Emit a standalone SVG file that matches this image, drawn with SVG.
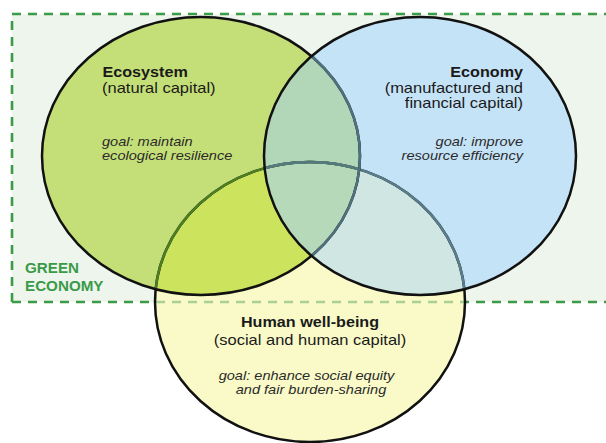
<svg xmlns="http://www.w3.org/2000/svg" width="606" height="443" viewBox="0 0 606 443">
<style>
  .t { font-family: "Liberation Sans", Arial, sans-serif; fill: #1a1a1a; }
  .h { font-size: 14.3px; font-weight: bold; }
  .r { font-size: 14.6px; }
  .g { font-size: 12.9px; font-style: italic; fill: #2a2a2a; }
  .ge { font-family: "Liberation Sans", Arial, sans-serif; font-size: 15.2px; font-weight: bold; fill: #3a9a48; }
  .dash { fill: none; stroke-width: 2.6; stroke-dasharray: 9 7; }
  .ol { fill: none; stroke-width: 2.5; }
</style>
<defs>
  <clipPath id="cE"><ellipse cx="201" cy="156" rx="159" ry="139"/></clipPath>
  <clipPath id="cC"><ellipse cx="420" cy="156" rx="156" ry="139"/></clipPath>
  <clipPath id="cH"><ellipse cx="310" cy="302" rx="155" ry="140"/></clipPath>
</defs>
<rect x="0" y="0" width="606" height="443" fill="#ffffff"/>

<g id="green-economy">
  <rect x="12" y="14" width="620" height="288" fill="#eef5ec"/>
  <path class="dash" stroke="#3c9b46" d="M12,302 V14 H620"/>
  <path class="dash" stroke="#3c9b46" d="M12,302 H620"/>
  <text class="ge" x="25" y="273">GREEN</text>
  <text class="ge" x="25" y="290.5">ECONOMY</text>
</g>

<g id="overlaps">
  <ellipse cx="310" cy="302" rx="155" ry="140" fill="#f9fac8"/>
  <ellipse cx="201" cy="156" rx="159" ry="139" fill="#c5df78"/>
  <ellipse cx="420" cy="156" rx="156" ry="139" fill="#c5e3f7"/>
  <g clip-path="url(#cE)"><ellipse cx="420" cy="156" rx="156" ry="139" fill="#b2d6b8"/></g>
  <g clip-path="url(#cE)"><ellipse cx="310" cy="302" rx="155" ry="140" fill="#cce35e"/></g>
  <g clip-path="url(#cC)"><ellipse cx="310" cy="302" rx="155" ry="140" fill="#cfe6e3"/></g>
  <g clip-path="url(#cE)"><g clip-path="url(#cC)"><ellipse cx="310" cy="302" rx="155" ry="140" fill="#b6d9ba"/></g></g>
  <g clip-path="url(#cH)"><path class="dash" stroke="#a9d193" d="M12,302 H620"/></g>
</g>

<g id="human-wellbeing">
  <ellipse class="ol" cx="310" cy="302" rx="155" ry="140" stroke="#111111"/>
  <g clip-path="url(#cE)"><ellipse class="ol" cx="310" cy="302" rx="155" ry="140" stroke="#4e7f22"/></g>
  <g clip-path="url(#cC)"><ellipse class="ol" cx="310" cy="302" rx="155" ry="140" stroke="#5a7d8c"/></g>
  <g clip-path="url(#cE)"><g clip-path="url(#cC)"><ellipse class="ol" cx="310" cy="302" rx="155" ry="140" stroke="#557a7e"/></g></g>
  <text class="t h" text-anchor="middle" transform="translate(310,327) scale(1.13,1)">Human well-being</text>
  <text class="t r" text-anchor="middle" transform="translate(310,345) scale(1.13,1)">(social and human capital)</text>
  <text class="t g" text-anchor="middle" transform="translate(306.5,379.5) scale(1.13,1)">goal: enhance social equity</text>
  <text class="t g" text-anchor="middle" transform="translate(311,394) scale(1.13,1)">and fair burden-sharing</text>
</g>

<g id="ecosystem">
  <ellipse class="ol" cx="201" cy="156" rx="159" ry="139" stroke="#111111"/>
  <g clip-path="url(#cC)"><ellipse class="ol" cx="201" cy="156" rx="159" ry="139" stroke="#50707e"/></g>
  <text class="t h" transform="translate(102.5,77) scale(1.13,1)">Ecosystem</text>
  <text class="t r" transform="translate(102,93) scale(1.13,1)">(natural capital)</text>
  <text class="t g" transform="translate(102,145.5) scale(1.13,1)">goal: maintain</text>
  <text class="t g" transform="translate(102,160) scale(1.13,1)">ecological resilience</text>
</g>

<g id="economy">
  <ellipse class="ol" cx="420" cy="156" rx="156" ry="139" stroke="#111111"/>
  <text class="t h" text-anchor="end" transform="translate(523,77) scale(1.13,1)">Economy</text>
  <text class="t r" text-anchor="end" transform="translate(523,93) scale(1.13,1)">(manufactured and</text>
  <text class="t r" text-anchor="end" transform="translate(523,108) scale(1.13,1)">financial capital)</text>
  <text class="t g" text-anchor="end" transform="translate(523,145.5) scale(1.13,1)">goal: improve</text>
  <text class="t g" text-anchor="end" transform="translate(523,160) scale(1.13,1)">resource efficiency</text>
</g>
</svg>
